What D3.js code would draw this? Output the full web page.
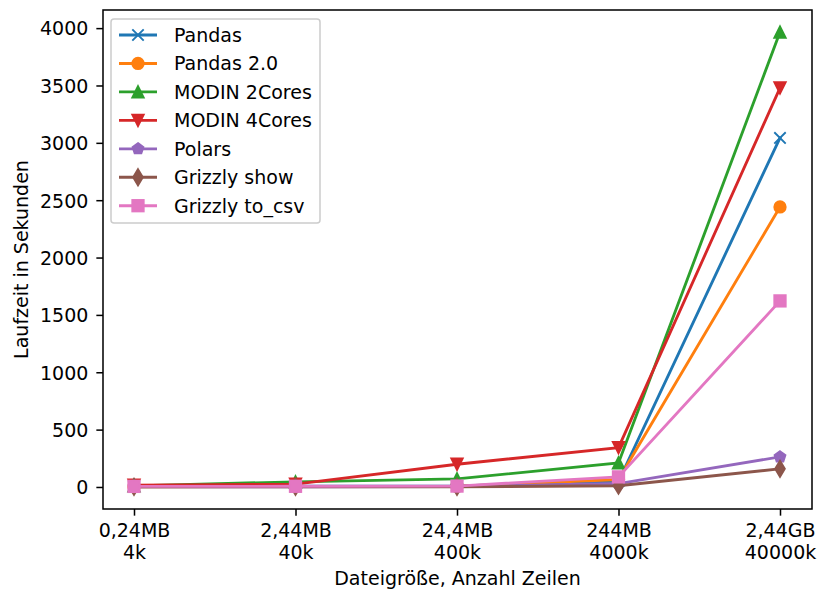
<!DOCTYPE html>
<html><head><meta charset="utf-8">
<script src="https://cdn.jsdelivr.net/npm/d3@7"></script>
<style>body{margin:0;background:#fff}svg{font-family:"DejaVu Sans",sans-serif}</style>
</head><body><svg id="c" width="818" height="589"></svg>
<script>
const categories = ["0,24MB\n4k","2,44MB\n40k","24,4MB\n400k","244MB\n4000k","2,44GB\n40000k"];
const pandas     = [3, 6, 10, 50, 3043];
const pandas2    = [2, 4, 6, 65, 2441];
const modin2     = [10, 45, 70, 210, 3965];
const modin4     = [15, 25, 198, 343, 3479];
const polars     = [1, 2, 3, 30, 262];
const grizzShow  = [1, 1, 1, 11, 158];
const grizzCsv   = [5, 6, 8, 88, 1622];
const seriesNames = ["Pandas","Pandas 2.0","MODIN 2Cores","MODIN 4Cores","Polars","Grizzly show","Grizzly to_csv"];
const seriesData = [pandas,pandas2,modin2,modin4,polars,grizzShow,grizzCsv];
const colors = ["#1f77b4","#ff7f0e","#2ca02c","#d62728","#9467bd","#8c564b","#e377c2"];
const markers = ["x","circle","triUp","triDown","pentagon","diamond","square"];
const yTicks = [0,500,1000,1500,2000,2500,3000,3500,4000];

const FS = 19, PT = 1.9;
const svg = d3.select("#c");
const L=103,R=812,T=10,B=509;
const x = d3.scalePoint().domain(categories).range([134,780]);
const y = d3.scaleLinear().domain([-192,4158]).range([B,T]);

function marker(g, type, color){
  const s=6*PT, h=s/2, ew=PT;
  const st = sel => sel.attr("fill",color).attr("stroke",color).attr("stroke-width",ew).attr("stroke-linejoin","miter");
  if(type==="x"){
    g.append("path").attr("d",`M${-h},${-h}L${h},${h}M${-h},${h}L${h},${-h}`).attr("stroke",color).attr("stroke-width",ew).attr("fill","none");
  } else if(type==="circle"){
    st(g.append("circle").attr("r",h));
  } else if(type==="triUp"){
    st(g.append("path").attr("d",`M0,${-h}L${h},${h}L${-h},${h}Z`));
  } else if(type==="triDown"){
    st(g.append("path").attr("d",`M0,${h}L${h},${-h}L${-h},${-h}Z`));
  } else if(type==="pentagon"){
    const pts=d3.range(5).map(i=>{const a=-Math.PI/2+i*2*Math.PI/5;return [h*Math.cos(a),h*Math.sin(a)];});
    st(g.append("path").attr("d","M"+pts.join("L")+"Z"));
  } else if(type==="diamond"){
    const dy=0.7071*s, dx=0.7071*s*0.6;
    st(g.append("path").attr("d",`M0,${-dy}L${dx},0L0,${dy}L${-dx},0Z`));
  } else if(type==="square"){
    st(g.append("rect").attr("x",-h).attr("y",-h).attr("width",s).attr("height",s));
  }
}

const plot = svg.append("g");
const line = d3.line().x((d,i)=>x(categories[i])).y(d=>y(d));
seriesData.forEach((data,k)=>{
  plot.append("path").datum(data).attr("d",line).attr("fill","none").attr("stroke",colors[k]).attr("stroke-width",1.5*PT).attr("stroke-linecap","square");
  data.forEach((v,i)=>{
    const g=plot.append("g").attr("transform",`translate(${x(categories[i])},${y(v)})`);
    marker(g,markers[k],colors[k]);
  });
});

// axes
const yAxis = svg.append("g").attr("transform",`translate(${L},0)`)
  .call(d3.axisLeft(y).tickValues(yTicks).tickSize(3.5*PT).tickPadding(8).tickFormat(d3.format("d")));
const xAxis = svg.append("g").attr("transform",`translate(0,${B})`)
  .call(d3.axisBottom(x).tickSize(3.5*PT).tickPadding(5).tickFormat(""));
[yAxis,xAxis].forEach(a=>{
  a.select(".domain").remove();
  a.selectAll(".tick line").attr("stroke","#000").attr("stroke-width",0.8*PT);
  a.selectAll("text").attr("font-size",FS).attr("fill","#000").attr("font-family","DejaVu Sans");
});
yAxis.selectAll(".tick text").attr("dy","0.36em");
xAxis.selectAll(".tick").each(function(d){
  const parts=d.split("\n");
  const t=d3.select(this).append("text").attr("text-anchor","middle").attr("font-size",FS).attr("fill","#000").attr("font-family","DejaVu Sans");
  parts.forEach((p,i)=>t.append("tspan").attr("x",0).attr("y",i===0?28:50).text(p));
});
svg.append("rect").attr("x",L).attr("y",T).attr("width",R-L).attr("height",B-T).attr("fill","none").attr("stroke","#000").attr("stroke-width",0.8*PT);

svg.append("text").attr("x",(L+R)/2).attr("y",585).attr("text-anchor","middle").attr("font-size",FS).text("Dateigröße, Anzahl Zeilen");
svg.append("text").attr("transform",`translate(28,${(T+B)/2}) rotate(-90)`).attr("text-anchor","middle").attr("font-size",FS).text("Laufzeit in Sekunden");

// legend
const lg = svg.append("g");
lg.append("rect").attr("x",111).attr("y",19).attr("width",209).attr("height",204).attr("rx",3).attr("fill","#fff").attr("fill-opacity",0.8).attr("stroke","#ccc").attr("stroke-width",1.5);
seriesNames.forEach((n,k)=>{
  const yy=35+k*28.45;
  lg.append("line").attr("x1",119).attr("x2",157).attr("y1",yy).attr("y2",yy).attr("stroke",colors[k]).attr("stroke-width",1.5*PT);
  marker(lg.append("g").attr("transform",`translate(138,${yy})`),markers[k],colors[k]);
  lg.append("text").attr("x",174).attr("y",yy).attr("dy","0.36em").attr("font-size",FS).text(n);
});
</script></body></html>
